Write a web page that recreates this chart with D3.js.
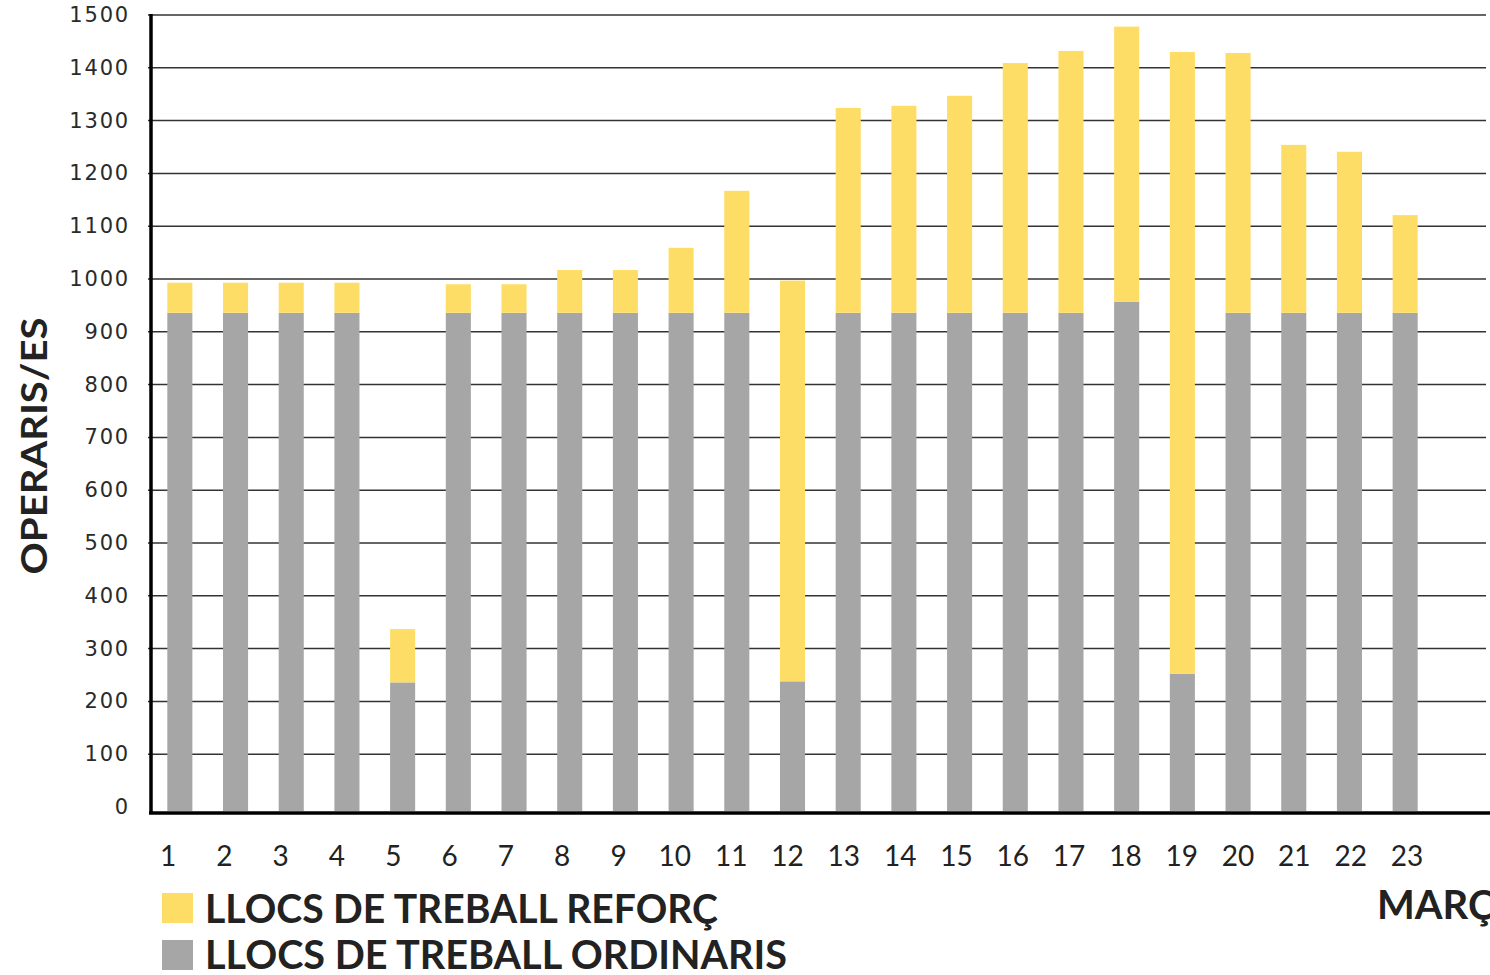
<!DOCTYPE html>
<html>
<head>
<meta charset="utf-8">
<script src="https://cdn.jsdelivr.net/npm/d3@7"></script>
<style>
  body { margin: 0; background: #fff; }
  svg { display: block; }
</style>
</head>
<body>
<div class="graph"></div>
<script>
// days of march
var days = ["1","2","3","4","5","6","7","8","9","10","11","12","13","14","15","16","17","18","19","20","21","22","23"]
// llocs de treball ordinaris (grey)
var ordinaris = [936,936,936,936,236,936,936,936,936,936,936,238,936,936,936,936,936,957,252,936,936,936,936]
// llocs de treball reforç (yellow, stacked on top)
var reforc = [57,57,57,57,101,54,54,81,81,123,231,759,388,392,411,473,496,521,1178,492,318,305,185]
var yTicks = [0,100,200,300,400,500,600,700,800,900,1000,1100,1200,1300,1400,1500]
var legendLabels = ["LLOCS DE TREBALL REFORÇ", "LLOCS DE TREBALL ORDINARIS"]

var w = 1490
var h = 975
var grey = "#a6a6a6"
var yellow = "#fedd66"

var svg = d3.select(".graph")
  .append("svg")
  .attr("width", w)
  .attr("height", h)

var y = d3.scaleLinear().domain([0, 1500]).range([807, 15])
var x = d3.scaleBand().domain(days).range([152, 1433]).paddingInner(0.55).paddingOuter(0.275)
// labels in the original sit a bit off the bars
var xl = d3.scalePoint().domain(days).range([168, 1407])

// gridlines
svg.append("g")
  .selectAll("line")
  .data(yTicks.slice(1))
  .enter()
  .append("line")
  .attr("x1", 148)
  .attr("x2", 1486)
  .attr("y1", function(d){ return y(d) })
  .attr("y2", function(d){ return y(d) })
  .attr("stroke", "#333")
  .attr("stroke-width", 1.5)

// y tick labels
svg.append("g")
  .selectAll("text")
  .data(yTicks)
  .enter()
  .append("text")
  .text(function(d){ return d })
  .attr("x", 130)
  .attr("y", function(d){ return y(d) + 7 })
  .attr("text-anchor", "end")
  .attr("font-family", "DejaVu Sans")
  .attr("font-size", 21)
  .attr("letter-spacing", 1.8)
  .attr("fill", "#2a2a2a")

// ordinaris bars
svg.append("g")
  .selectAll("rect")
  .data(ordinaris)
  .enter()
  .append("rect")
  .attr("x", function(d, i){ return x(days[i]) })
  .attr("y", function(d){ return y(d) })
  .attr("width", x.bandwidth())
  .attr("height", function(d){ return y(0) - y(d) + 4 })
  .attr("fill", grey)

// reforç bars, on top
svg.append("g")
  .selectAll("rect")
  .data(reforc)
  .enter()
  .append("rect")
  .attr("x", function(d, i){ return x(days[i]) })
  .attr("y", function(d, i){ return y(ordinaris[i] + d) })
  .attr("width", x.bandwidth())
  .attr("height", function(d, i){ return y(ordinaris[i]) - y(ordinaris[i] + d) })
  .attr("fill", yellow)

// axes lines
svg.append("line")
  .attr("x1", 151).attr("x2", 151)
  .attr("y1", 14).attr("y2", 814)
  .attr("stroke", "#000").attr("stroke-width", 3.5)
svg.append("line")
  .attr("x1", 149).attr("x2", 1490)
  .attr("y1", y(0) + 6).attr("y2", y(0) + 6)
  .attr("stroke", "#000").attr("stroke-width", 3.5)

// x tick labels
svg.append("g")
  .selectAll("text")
  .data(days)
  .enter()
  .append("text")
  .text(function(d){ return d })
  .attr("x", function(d){ return xl(d) })
  .attr("y", 866)
  .attr("text-anchor", "middle")
  .attr("font-family", "Lato")
  .attr("font-size", 28)
  .attr("fill", "#222")

// y title
svg.append("text")
  .text("OPERARIS/ES")
  .attr("transform", "translate(47,446) rotate(-90)")
  .attr("text-anchor", "middle")
  .attr("font-family", "Lato")
  .attr("font-weight", "bold")
  .attr("font-size", 36)
  .attr("textLength", 257)
  .attr("lengthAdjust", "spacingAndGlyphs")
  .attr("fill", "#222")

// x title (clipped at the right edge like the original)
svg.append("text")
  .text("MARÇ")
  .attr("x", 1377)
  .attr("y", 919)
  .attr("font-family", "Lato")
  .attr("font-weight", "bold")
  .attr("font-size", 40)
  .attr("fill", "#222")

// legend
var legend = svg.append("g")
var legendColors = [yellow, grey]
var legendLen = [513, 582]
legendLabels.forEach(function(lab, i){
  legend.append("rect")
    .attr("x", 162)
    .attr("y", 893 + i * 47)
    .attr("width", 31)
    .attr("height", 30)
    .attr("fill", legendColors[i])
  legend.append("text")
    .text(lab)
    .attr("x", 205)
    .attr("y", 923 + i * 46)
    .attr("font-family", "Lato")
    .attr("font-weight", "bold")
    .attr("font-size", 40)
    .attr("textLength", legendLen[i])
    .attr("lengthAdjust", "spacingAndGlyphs")
    .attr("fill", "#222")
})
</script>
</body>
</html>
